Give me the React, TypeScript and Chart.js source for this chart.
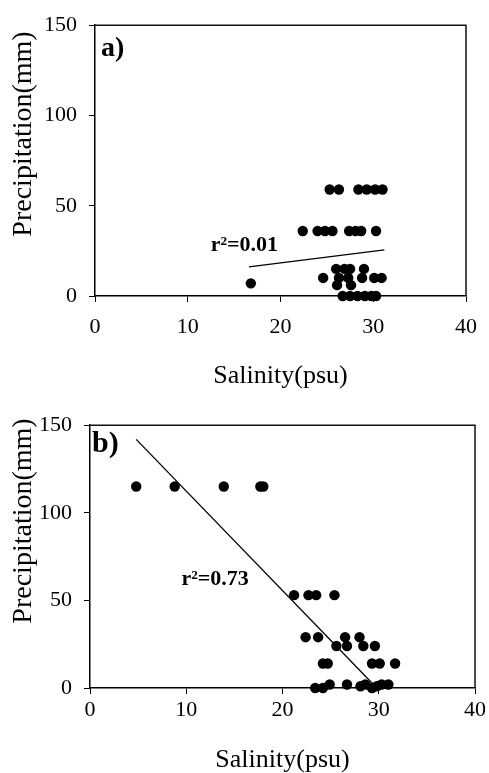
import React, { useEffect, useRef } from "react";
import { Chart, registerables } from "chart.js";

Chart.register(...registerables);

// ---------- data ----------
const xTickValues = [0, 10, 20, 30, 40];
const yTickValues = [0, 50, 100, 150];

// Panel a
const salinityA = [
  25.3, 26.3, 28.4, 29.3, 30.2, 31.0,
  22.4, 24.0, 24.8, 25.6, 27.4, 28.1, 28.7, 30.3,
  26.0, 26.9, 27.5, 29.0,
  24.6, 26.3, 27.3, 28.8, 30.1, 30.9,
  26.1, 27.6,
  16.8,
  26.7, 27.5, 28.3, 29.1, 29.8, 30.3,
];
const precipA = [
  59, 59, 59, 59, 59, 59,
  36, 36, 36, 36, 36, 36, 36, 36,
  15, 15, 15, 15,
  10, 10, 10, 10, 10, 10,
  6, 6,
  7,
  0, 0, 0, 0, 0, 0,
];
const trendSalinityA = [16.6, 31.2];
const trendPrecipA = [16.1, 25.6];
const labelA = "r\u00B2=0.01";
const labelPosA = [16.1, 28];

// Panel b
const salinityB = [
  4.8, 8.8, 13.9, 17.7, 18.0,
  21.2, 22.7, 23.5, 25.4,
  22.4, 23.7, 26.5, 28.0,
  25.6, 26.7, 28.4, 29.6,
  24.2, 24.7, 29.3, 30.1, 31.7,
  23.4, 24.2, 24.9, 26.7, 28.1, 28.6, 29.3, 29.8, 30.3, 31.0,
];
const precipB = [
  115, 115, 115, 115, 115,
  53, 53, 53, 53,
  29, 29, 29, 29,
  24, 24, 24, 24,
  14, 14, 14, 14, 14,
  0, 0, 2, 2, 1, 2, 0, 1, 2, 2,
];
const trendSalinityB = [4.8, 29.6];
const trendPrecipB = [141.9, 1.1];
const labelB = "r\u00B2=0.73";
const labelPosB = [13.0, 62];

const xTitle = "Salinity(psu)";
const yTitle = "Precipitation(mm)";

const SERIF = "'Liberation Serif', 'Times New Roman', serif";

type PanelOpts = {
  height: number;
  padding: { top: number; right: number; bottom: number; left: number };
  yWidth: number;
  xHeight: number;
  xTickPad: number;
  xTitlePadBottom: number;
  panel: string;
  panelDx: number;
  panelDy: number;
  panelSize: number;
  yTitleY: number;
  xs: number[];
  ys: number[];
  tx: number[];
  ty: number[];
  ann: string;
  annPos: number[];
};

const decorPlugin = {
  id: "decor",
  afterDatasetsDraw(chart: any, _args: any, opts: any) {
    const { ctx, chartArea, scales } = chart;
    ctx.save();
    // frame (top & right)
    ctx.strokeStyle = "#111";
    ctx.lineWidth = 1.5;
    ctx.beginPath();
    ctx.moveTo(chartArea.left, chartArea.top);
    ctx.lineTo(chartArea.right, chartArea.top);
    ctx.lineTo(chartArea.right, chartArea.bottom);
    ctx.stroke();
    ctx.fillStyle = "#000";
    // r^2 annotation
    ctx.font = `bold 22px ${SERIF}`;
    ctx.textAlign = "center";
    ctx.textBaseline = "middle";
    ctx.fillText(
      opts.ann,
      scales.x.getPixelForValue(opts.annPos[0]),
      scales.y.getPixelForValue(opts.annPos[1])
    );
    // panel label
    ctx.font = `bold ${opts.panelSize}px ${SERIF}`;
    ctx.textAlign = "left";
    ctx.fillText(opts.panel, chartArea.left + opts.panelDx, chartArea.top + opts.panelDy);
    // y title
    ctx.font = `28px ${SERIF}`;
    ctx.textAlign = "center";
    ctx.translate(24, opts.yTitleY);
    ctx.rotate(-Math.PI / 2);
    ctx.fillText(yTitle, 0, 0);
    ctx.restore();
  },
};

function makeConfig(o: PanelOpts): any {
  const pts = o.xs.map((x, i) => ({ x, y: o.ys[i] }));
  const trend = o.tx.map((x, i) => ({ x, y: o.ty[i] }));
  return {
    type: "scatter",
    data: {
      datasets: [
        {
          type: "line",
          data: trend,
          borderColor: "#000",
          borderWidth: 1.3,
          pointRadius: 0,
          fill: false,
          clip: false,
        },
        {
          data: pts,
          backgroundColor: "#000",
          borderColor: "#000",
          borderWidth: 0,
          pointRadius: 5.2,
          pointHoverRadius: 5.2,
          clip: false,
        },
      ],
    },
    options: {
      responsive: false,
      animation: false,
      devicePixelRatio: 1,
      layout: { padding: o.padding },
      plugins: {
        legend: { display: false },
        tooltip: { enabled: false },
        decor: {
          ann: o.ann,
          annPos: o.annPos,
          panel: o.panel,
          panelDx: o.panelDx,
          panelDy: o.panelDy,
          panelSize: o.panelSize,
          yTitleY: o.yTitleY,
        },
      },
      scales: {
        x: {
          type: "linear",
          min: 0,
          max: 40,
          afterBuildTicks: (s: any) => {
            s.ticks = xTickValues.map((v) => ({ value: v }));
          },
          afterFit: (s: any) => {
            s.height = o.xHeight;
          },
          ticks: {
            color: "#000",
            font: { family: SERIF, size: 22 },
            padding: o.xTickPad,
            maxRotation: 0,
            autoSkip: false,
          },
          grid: {
            display: true,
            drawOnChartArea: false,
            drawTicks: true,
            tickLength: 6,
            tickColor: "#000",
            color: "#000",
          },
          border: { display: true, color: "#000", width: 1.5 },
          title: {
            display: true,
            text: xTitle,
            color: "#000",
            font: { family: SERIF, size: 26, lineHeight: 1 },
            padding: { top: 0, bottom: o.xTitlePadBottom },
          },
        },
        y: {
          type: "linear",
          min: 0,
          max: 150,
          afterBuildTicks: (s: any) => {
            s.ticks = yTickValues.map((v) => ({ value: v }));
          },
          afterFit: (s: any) => {
            s.width = o.yWidth;
          },
          ticks: {
            color: "#000",
            font: { family: SERIF, size: 22 },
            padding: 12,
            autoSkip: false,
          },
          grid: {
            display: true,
            drawOnChartArea: false,
            drawTicks: true,
            tickLength: 6,
            tickColor: "#000",
            color: "#000",
          },
          border: { display: true, color: "#000", width: 1.5 },
        },
      },
    },
    plugins: [decorPlugin],
  };
}

const panelA: PanelOpts = {
  height: 400,
  padding: { top: 23, right: 14, bottom: 4, left: 0 },
  yWidth: 95,
  xHeight: 100,
  xTickPad: 12,
  xTitlePadBottom: 7,
  panel: "a)",
  panelDx: 6,
  panelDy: 23.5,
  panelSize: 28,
  yTitleY: 134,
  xs: salinityA,
  ys: precipA,
  tx: trendSalinityA,
  ty: trendPrecipA,
  ann: labelA,
  annPos: labelPosA,
};

const panelB: PanelOpts = {
  height: 373,
  padding: { top: 23, right: 14, bottom: 0, left: 0 },
  yWidth: 90,
  xHeight: 85,
  xTickPad: 3,
  xTitlePadBottom: 0,
  panel: "b)",
  panelDx: 2,
  panelDy: 19,
  panelSize: 30,
  yTitleY: 121,
  xs: salinityB,
  ys: precipB,
  tx: trendSalinityB,
  ty: trendPrecipB,
  ann: labelB,
  annPos: labelPosB,
};

function Panel({ o, top }: { o: PanelOpts; top: number }) {
  const ref = useRef<HTMLCanvasElement | null>(null);
  useEffect(() => {
    if (!ref.current) return;
    const chart = new Chart(ref.current, makeConfig(o));
    return () => chart.destroy();
  }, [o]);
  return (
    <canvas
      ref={ref}
      width={489}
      height={o.height}
      style={{ position: "absolute", left: 0, top, width: 489, height: o.height, display: "block" }}
    />
  );
}

export default function App() {
  return (
    <div
      style={{
        position: "absolute",
        left: 0,
        top: 0,
        width: 489,
        height: 773,
        overflow: "hidden",
        background: "#fff",
      }}
    >
      <Panel o={panelA} top={0} />
      <Panel o={panelB} top={400} />
    </div>
  );
}
